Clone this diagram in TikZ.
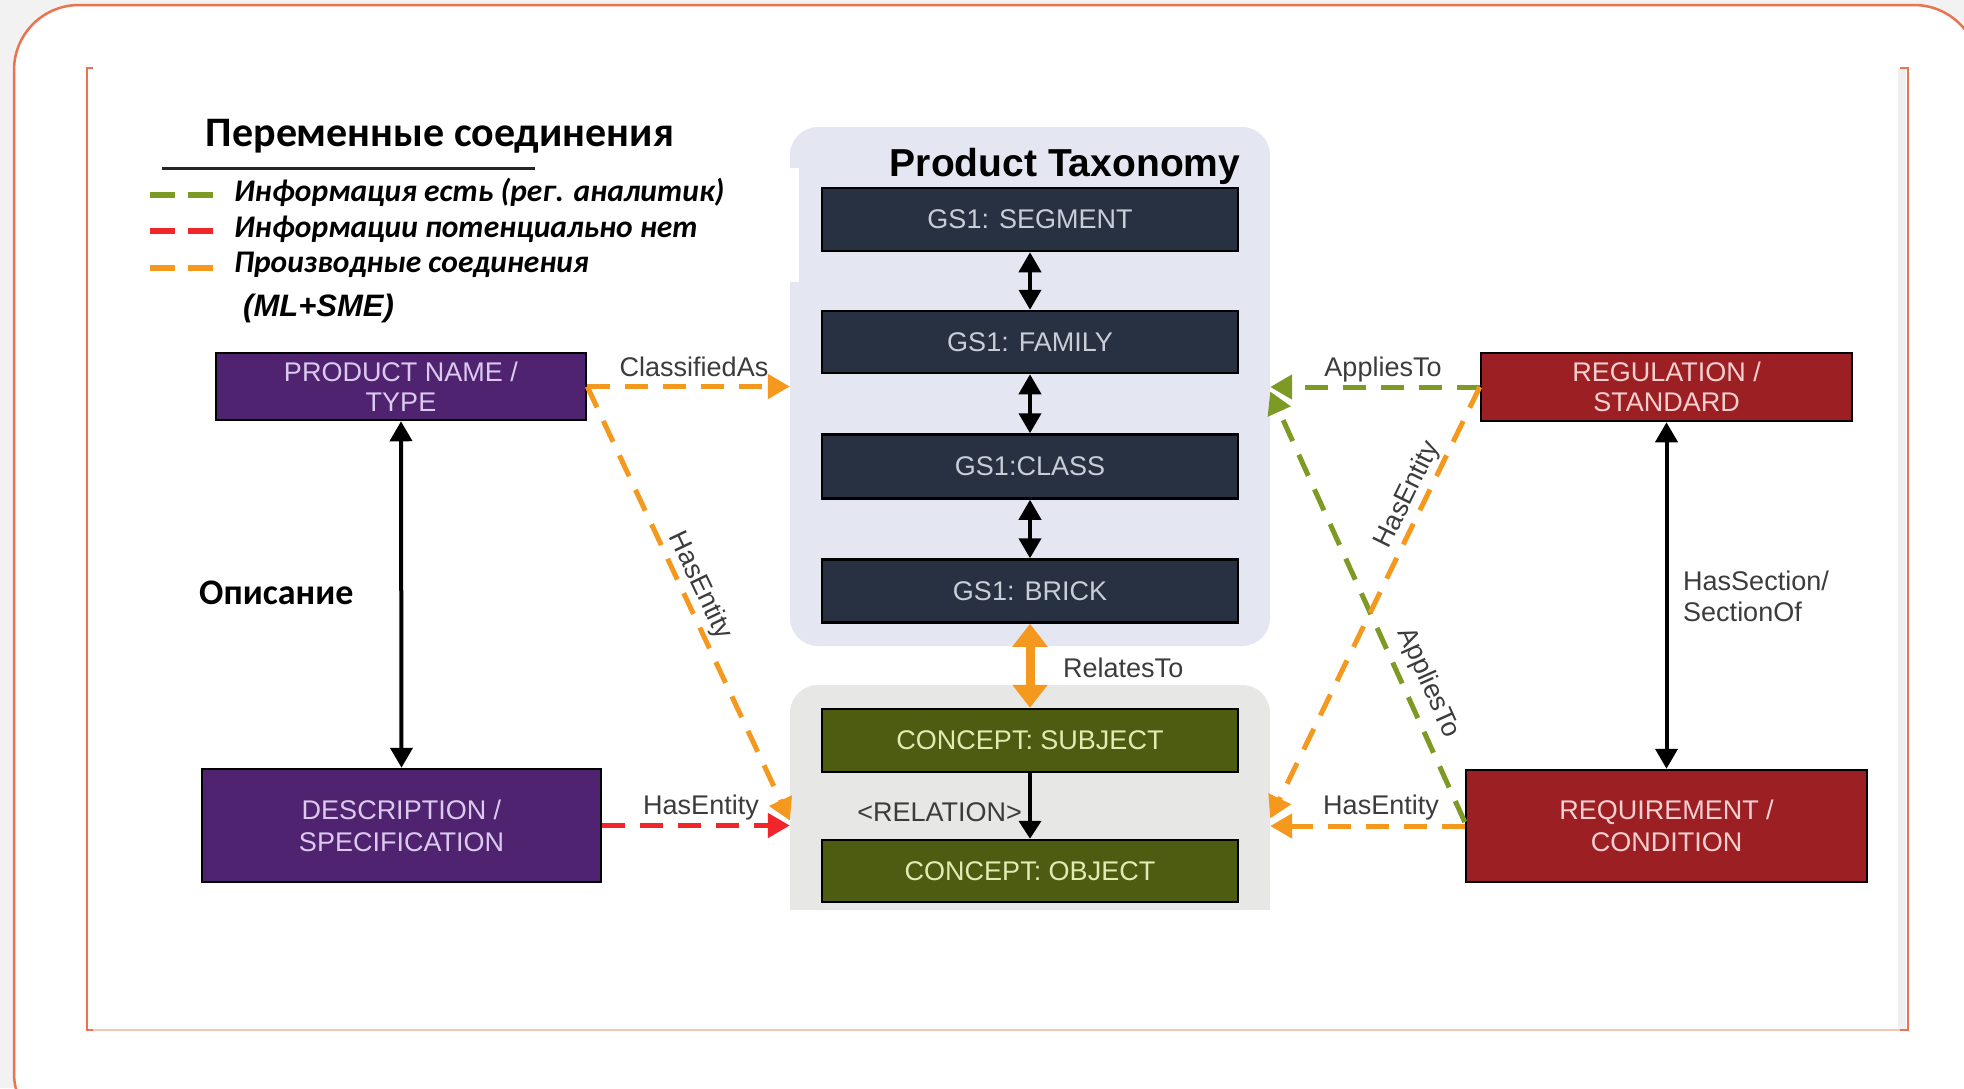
\documentclass[tikz,border=0pt]{standalone}
\usepackage{fontspec}
\setmainfont{Liberation Sans}
\newfontfamily\calfont{Carlito}
\usetikzlibrary{arrows.meta}
\definecolor{frameor}{HTML}{EB7350}
\definecolor{framelt}{HTML}{F4C6B6}
\definecolor{bggrey}{HTML}{F2F2F2}
\definecolor{navybox}{HTML}{283142}
\definecolor{navytxt}{HTML}{C8CED8}
\definecolor{olivebox}{HTML}{4D5C10}
\definecolor{olivetxt}{HTML}{E2EBB4}
\definecolor{purpbox}{HTML}{4F236F}
\definecolor{purptxt}{HTML}{DCCAEE}
\definecolor{redbox}{HTML}{9B1F23}
\definecolor{redtxt}{HTML}{F6D0D0}
\definecolor{taxbg}{HTML}{E4E7F1}
\definecolor{conbg}{HTML}{E7E7E5}
\definecolor{labgrey}{HTML}{3C3C3C}
\definecolor{dorange}{HTML}{F5981E}
\definecolor{dgreen}{HTML}{7C9A24}
\definecolor{dred}{HTML}{F0262A}
\tikzset{
  lbl/.style={text=labgrey, font=\fontsize{27}{30}\selectfont, inner sep=0pt},
  gsbox/.style={draw=black, line width=2.5pt, fill=navybox, text=navytxt, minimum width=416pt, minimum height=63pt, inner sep=0pt, font=\fontsize{27}{30}\selectfont},
  cpbox/.style={gsbox, fill=olivebox, text=olivetxt},
  purbox/.style={draw=black, line width=2.5pt, fill=purpbox, text=purptxt, inner sep=0pt, align=center, font=\fontsize{27}{30}\selectfont},
  rdbox/.style={purbox, fill=redbox, text=redtxt},
  biarrow/.style={line width=4pt, {Triangle[length=20pt,width=22pt]}-{Triangle[length=20pt,width=22pt]}},
  onearrow/.style={line width=4pt, -{Triangle[length=18pt,width=22pt]}},
  dsh/.style={line width=5pt, dash pattern=on 23pt off 15pt, -{Triangle[length=22pt,width=24pt]}},
  legtxt/.style={anchor=west, inner sep=0pt, font=\calfont\bfseries\itshape\fontsize{31.5}{34}\selectfont},
}
\begin{document}
\begin{tikzpicture}[x=1pt,y=-1pt]
\useasboundingbox (0,0) rectangle (1964,1088);
% backgrounds and frames
\fill[bggrey] (0,0) rectangle (1964,1088);
\draw[frameor, line width=2.5pt, fill=white, rounded corners=65pt] (14,5) rectangle (1979,1138);
\fill[black!6] (1898,68) rectangle (1906,1030);
\draw[framelt, line width=1.5pt] (87,1030) -- (1908,1030);
\draw[frameor, line width=2.5pt] (93,68) -- (87,68) -- (87,1030) -- (93,1030);
\draw[frameor, line width=2.5pt] (1900,68) -- (1908,68) -- (1908,1030) -- (1900,1030);

% legend
\node[inner sep=0pt, font=\calfont\bfseries\fontsize{42}{46}\selectfont] (legtitle) at (440,136) {Переменные соединения};
\draw[black!85, line width=3pt] (162,168) -- (535,168);
\draw[dgreen, line width=6pt] (150,195) -- (175,195) (188,195) -- (213,195);
\draw[dred, line width=6pt] (150,231) -- (175,231) (188,231) -- (213,231);
\draw[dorange, line width=6pt] (150,268) -- (175,268) (188,268) -- (213,268);
\node[legtxt] (leg1) at (234,192) {Информация есть (рег. аналитик)};
\node[legtxt] (leg2) at (234,229) {Информации потенциально нет};
\node[legtxt] (leg3) at (234,265) {Производные соединения};
\node[anchor=west, inner sep=0pt, font=\bfseries\itshape\fontsize{31}{34}\selectfont] (mlsme) at (243,308) {(ML+SME)};
\node[anchor=west, inner sep=0pt, font=\calfont\bfseries\fontsize{36}{40}\selectfont] (opis) at (199,593) {Описание};

% group backgrounds
\node[fill=taxbg, rounded corners=28pt, minimum width=480pt, minimum height=519pt, inner sep=0pt] (tax) at (1030,386.5) {};
\fill[white] (788,168) rectangle (799,282);
\node[fill=conbg, rounded corners=28pt, minimum width=480pt, minimum height=225pt, inner sep=0pt] (cbox) at (1030,797.5) {};
\fill[conbg] ([yshift=30pt]cbox.south west) rectangle (cbox.south east);
\node[inner sep=0pt, font=\bfseries\fontsize{39}{42}\selectfont] (taxtitle) at (1065,166) {Product Taxonomy};

% taxonomy boxes
\node[gsbox] (seg) at (1030,219.5) {GS1: SEGMENT};
\node[gsbox, minimum height=62pt] (fam) at (1030,342) {GS1: FAMILY};
\node[gsbox, minimum height=64pt] (cls) at (1030,466.5) {GS1:CLASS};
\node[gsbox, minimum height=63pt] (brick) at (1030,591) {GS1: BRICK};
\node[cpbox] (subj) at (1030,740.5) {CONCEPT: SUBJECT};
\node[cpbox, minimum height=62pt] (obj) at (1030,871) {CONCEPT: OBJECT};

% side boxes
\node[purbox, minimum width=370pt, minimum height=67pt] (prod) at (401,386.5) {PRODUCT NAME /\\TYPE};
\node[purbox, minimum width=399pt, minimum height=113pt] (desc) at (401.5,825.5) {DESCRIPTION /\\[2pt]SPECIFICATION};
\node[rdbox, minimum width=371pt, minimum height=68pt] (reg) at (1666.5,387) {REGULATION /\\STANDARD};
\node[rdbox, minimum width=401pt, minimum height=112pt] (req) at (1666.5,826) {REQUIREMENT /\\[2pt]CONDITION};

% solid connectors
\draw[biarrow] (seg) -- (fam);
\draw[biarrow] (fam) -- (cls);
\draw[biarrow] (cls) -- (brick);
\draw[onearrow] (subj) -- (obj);
\draw[dorange, line width=9pt, {Triangle[length=23pt,width=34pt]}-{Triangle[length=23pt,width=34pt]}] (brick.south) -- (subj.north);
\draw[biarrow] (prod.south) -- (desc.north);
\draw[biarrow] (reg.south) -- (req.north);

% dashed connectors
\draw[dsh, dorange] (prod.east) -- (prod.east -| tax.west);
\draw[dsh, dorange] (prod.east) -- ([yshift=-23pt]cbox.west);
\draw[dsh, dred] (desc.east) -- (desc.east -| cbox.west);
\draw[dsh, dgreen] (reg.west) -- (reg.west -| tax.east);
\draw[dsh, dgreen] ([yshift=4pt]req.west) -- ([yshift=-5pt]tax.east);
\draw[dsh, dorange] (reg.west) -- ([yshift=-21pt]cbox.east);
\draw[dsh, dorange] (req.west) -- (req.west -| cbox.east);

% labels
\node[lbl] (lclass) at (694,367) {ClassifiedAs};
\node[lbl] (lhasL) at (701,808) {HasEntity};
\node[lbl, rotate=-64.5] (lhasD) at (700,586) {HasEntity};
\node[lbl] (lapp) at (1383,370) {AppliesTo};
\node[lbl] (lhasR) at (1381,808) {HasEntity};
\node[lbl, rotate=63.9] (lhasU) at (1408,495) {HasEntity};
\node[lbl, rotate=-65.8] (lappD) at (1428,683) {AppliesTo};
\node[lbl, anchor=west] (lrel) at (1063,668) {RelatesTo};
\node[lbl, anchor=east] (lrelation) at (1022,812) {<RELATION>};
\node[lbl, anchor=west, align=left, font=\fontsize{27}{31}\selectfont] (lsect) at (1683,596) {HasSection/\\SectionOf};
\end{tikzpicture}
\end{document}
